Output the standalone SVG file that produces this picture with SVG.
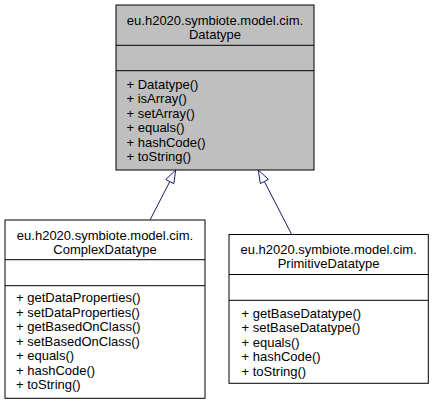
<svg xmlns="http://www.w3.org/2000/svg" width="435" height="405" viewBox="0 0 435 405">
<style>
  .box { stroke: #000000; stroke-width: 1; }
  .sep { stroke: #000000; stroke-width: 1; fill: none; }
  .t { font-family: "Liberation Sans", Arial, Helvetica, sans-serif; font-size: 13px; fill: #000000; }
  .c { text-anchor: middle; }
  .edge { stroke: #191970; stroke-width: 1; fill: none; }
  .head { stroke: #191970; stroke-width: 1; fill: #ffffff; }
</style>
<rect width="435" height="405" fill="#ffffff"/>

<g id="node-Datatype">
  <rect class="box" x="116" y="5" width="198" height="165" fill="#bfbfbf"/>
  <line class="sep" x1="116" y1="45.3" x2="314" y2="45.3"/>
  <line class="sep" x1="116" y1="70.7" x2="314" y2="70.7"/>
  <text class="t c" x="215" y="24.5">eu.h2020.symbiote.model.cim.</text>
  <text class="t c" x="215" y="38.5">Datatype</text>
  <text class="t" x="126.5" y="88.5">+ Datatype()</text>
  <text class="t" x="126.5" y="103">+ isArray()</text>
  <text class="t" x="126.5" y="117.5">+ setArray()</text>
  <text class="t" x="126.5" y="132">+ equals()</text>
  <text class="t" x="126.5" y="146.5">+ hashCode()</text>
  <text class="t" x="126.5" y="161">+ toString()</text>
</g>

<g id="node-ComplexDatatype">
  <rect class="box" x="5" y="220" width="200" height="178.3" fill="#ffffff"/>
  <line class="sep" x1="5" y1="259.7" x2="205" y2="259.7"/>
  <line class="sep" x1="5" y1="285.7" x2="205" y2="285.7"/>
  <text class="t c" x="105" y="240">eu.h2020.symbiote.model.cim.</text>
  <text class="t c" x="105" y="254">ComplexDatatype</text>
  <text class="t" x="16" y="302">+ getDataProperties()</text>
  <text class="t" x="16" y="316.5">+ setDataProperties()</text>
  <text class="t" x="16" y="331">+ getBasedOnClass()</text>
  <text class="t" x="16" y="345.5">+ setBasedOnClass()</text>
  <text class="t" x="16" y="360">+ equals()</text>
  <text class="t" x="16" y="374.5">+ hashCode()</text>
  <text class="t" x="16" y="389">+ toString()</text>
</g>

<g id="node-PrimitiveDatatype">
  <rect class="box" x="229" y="234.5" width="199.3" height="148.8" fill="#ffffff"/>
  <line class="sep" x1="229" y1="274.5" x2="428.3" y2="274.5"/>
  <line class="sep" x1="229" y1="300.3" x2="428.3" y2="300.3"/>
  <text class="t c" x="328.6" y="253.5">eu.h2020.symbiote.model.cim.</text>
  <text class="t c" x="328.6" y="267.5">PrimitiveDatatype</text>
  <text class="t" x="241.5" y="317.5">+ getBaseDatatype()</text>
  <text class="t" x="241.5" y="332">+ setBaseDatatype()</text>
  <text class="t" x="241.5" y="346.5">+ equals()</text>
  <text class="t" x="241.5" y="361">+ hashCode()</text>
  <text class="t" x="241.5" y="375.5">+ toString()</text>
</g>

<g id="connectors">
  <path class="edge" d="M150,220 L169.8,181.6"/>
  <polygon class="head" points="175.7,170 165.8,179.5 173.8,183.7"/>
  <path class="edge" d="M291.7,234.5 L264.35,181.5"/>
  <polygon class="head" points="258.3,170 268.4,179.4 260.3,183.6"/>
</g>
</svg>
